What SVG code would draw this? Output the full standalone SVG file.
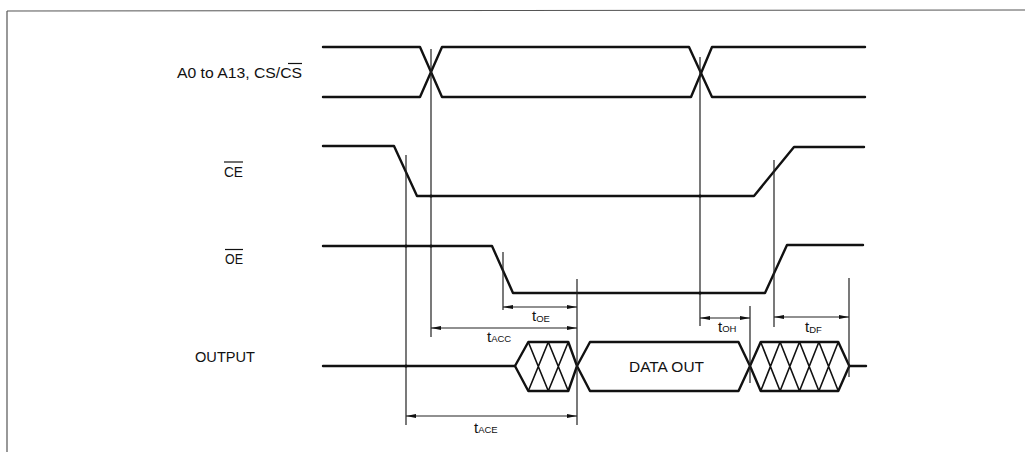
<svg xmlns="http://www.w3.org/2000/svg" width="1025" height="452" viewBox="0 0 1025 452">
<style>
.sig{fill:none;stroke:#111;stroke-width:2.4;stroke-linejoin:round;stroke-linecap:round}
.hat{fill:none;stroke:#111;stroke-width:1.6}
.ref{fill:none;stroke:#222;stroke-width:1.2}
.dim{fill:none;stroke:#222;stroke-width:1.2;marker-start:url(#ah);marker-end:url(#ah)}
.lbl{font-family:"Liberation Sans",Arial,sans-serif;font-size:14px;fill:#111}
.t{font-family:"Liberation Sans",Arial,sans-serif;font-size:15px;fill:#111}
.sub{font-size:9.5px}
.ovl{stroke:#111;stroke-width:1.2}
.dot{fill:#111}
</style>
<defs>
<marker id="ah" viewBox="0 0 10 6" refX="10" refY="3" markerWidth="10" markerHeight="6" markerUnits="userSpaceOnUse" orient="auto-start-reverse">
<path d="M0,1 L10,3 L0,5 Z" fill="#111"/>
</marker>
</defs>
<rect width="1025" height="452" fill="#fff"/>
<g id="frame">
<path d="M7,11 L1025,10 M7,11 L7,452" fill="none" stroke="#555" stroke-width="1.2"/>
</g>
<g id="address">
<text class="lbl" x="177" y="78" font-size="13" textLength="125" lengthAdjust="spacingAndGlyphs">A0 to A13, CS/CS</text>
<line class="ovl" x1="288" y1="63.5" x2="302" y2="63.5"/>
<path class="sig" d="M323,47 L420,47 L442,97 L691,97 L712,47 L865,47"/>
<path class="sig" d="M323,97 L420,97 L442,47 L689,47 L712,97 L865,97"/>
</g>
<g id="ce">
<text class="lbl" x="224" y="177" textLength="19" lengthAdjust="spacingAndGlyphs">CE</text>
<line class="ovl" x1="224" y1="162" x2="243" y2="162"/>
<path class="sig" d="M323,146 L394,146 L417,196 L754,196 L794,147 L864,147"/>
</g>
<g id="oe">
<text class="lbl" x="225" y="263.5" textLength="18" lengthAdjust="spacingAndGlyphs">OE</text>
<line class="ovl" x1="225" y1="249.5" x2="243" y2="249.5"/>
<path class="sig" d="M323,246 L492,246 L513,293 L765,293 L787,245 L863,245"/>
</g>
<g id="output">
<text class="lbl" x="195" y="362" textLength="60" lengthAdjust="spacingAndGlyphs">OUTPUT</text>
<path class="sig" d="M323,366 L515,366"/>
<path class="sig" d="M515,366 L528.3,342 L568.3,342 L577,366 L568.3,391 L528.3,391 Z"/>
<path class="hat" d="M528.3,342 L548.3,391 M548.3,342 L528.3,391 M548.3,342 L568.3,391 M568.3,342 L548.3,391"/>
<path class="sig" d="M849.3,366 L866,366"/>
</g>
<g id="data-out">
<path class="sig" d="M577,366 L590,342 L738.5,342 L750,366 L738.5,391 L590,391 Z"/>
<text class="lbl" x="629" y="371.5" font-size="14.5" textLength="75" lengthAdjust="spacingAndGlyphs">DATA OUT</text>
</g>
<g id="high-z">
<path class="sig" d="M750,366 L760.7,342 L838.3,342 L849.3,366 L838.3,391 L760.7,391 Z"/>
<path class="hat" d="M760.7,342 L780.1,391 M780.1,342 L760.7,391 M780.1,342 L799.5,391 M799.5,342 L780.1,391 M799.5,342 L818.9,391 M818.9,342 L799.5,391 M818.9,342 L838.3,391 M838.3,342 L818.9,391"/>
</g>
<g id="connectors">
<path class="ref" d="M406,155 L406,425 M431,49 L431,337 M503,252 L503,310 M577,279 L577,425 M700,57 L700,326 M750,306 L750,383 M774,160 L774,327 M849,278 L849,377"/>
<circle class="dot" cx="431" cy="196" r="1.6"/>
<circle class="dot" cx="406" cy="246" r="1.6"/>
<circle class="dot" cx="431" cy="246" r="1.6"/>
<circle class="dot" cx="700" cy="196" r="1.6"/>
<circle class="dot" cx="700" cy="293" r="1.6"/>
<circle class="dot" cx="406" cy="366" r="1.6"/>
<line class="dim" x1="503" y1="307" x2="577" y2="307"/>
<line class="dim" x1="431" y1="328" x2="577" y2="328"/>
<line class="dim" x1="406" y1="416" x2="577" y2="416"/>
<line class="dim" x1="700" y1="318" x2="750" y2="318"/>
<line class="dim" x1="774" y1="317" x2="849" y2="317"/>
</g>
<g id="labels">
<text class="t" x="532" y="321">t<tspan class="sub" dy="0.5">OE</tspan></text>
<text class="t" x="487" y="341.5">t<tspan class="sub" dy="0.5">ACC</tspan></text>
<text class="t" x="474" y="432.5">t<tspan class="sub" dy="0.5">ACE</tspan></text>
<text class="t" x="718" y="331.5">t<tspan class="sub" dy="0.5">OH</tspan></text>
<text class="t" x="805" y="332">t<tspan class="sub" dy="0.5">DF</tspan></text>
</g>
</svg>
